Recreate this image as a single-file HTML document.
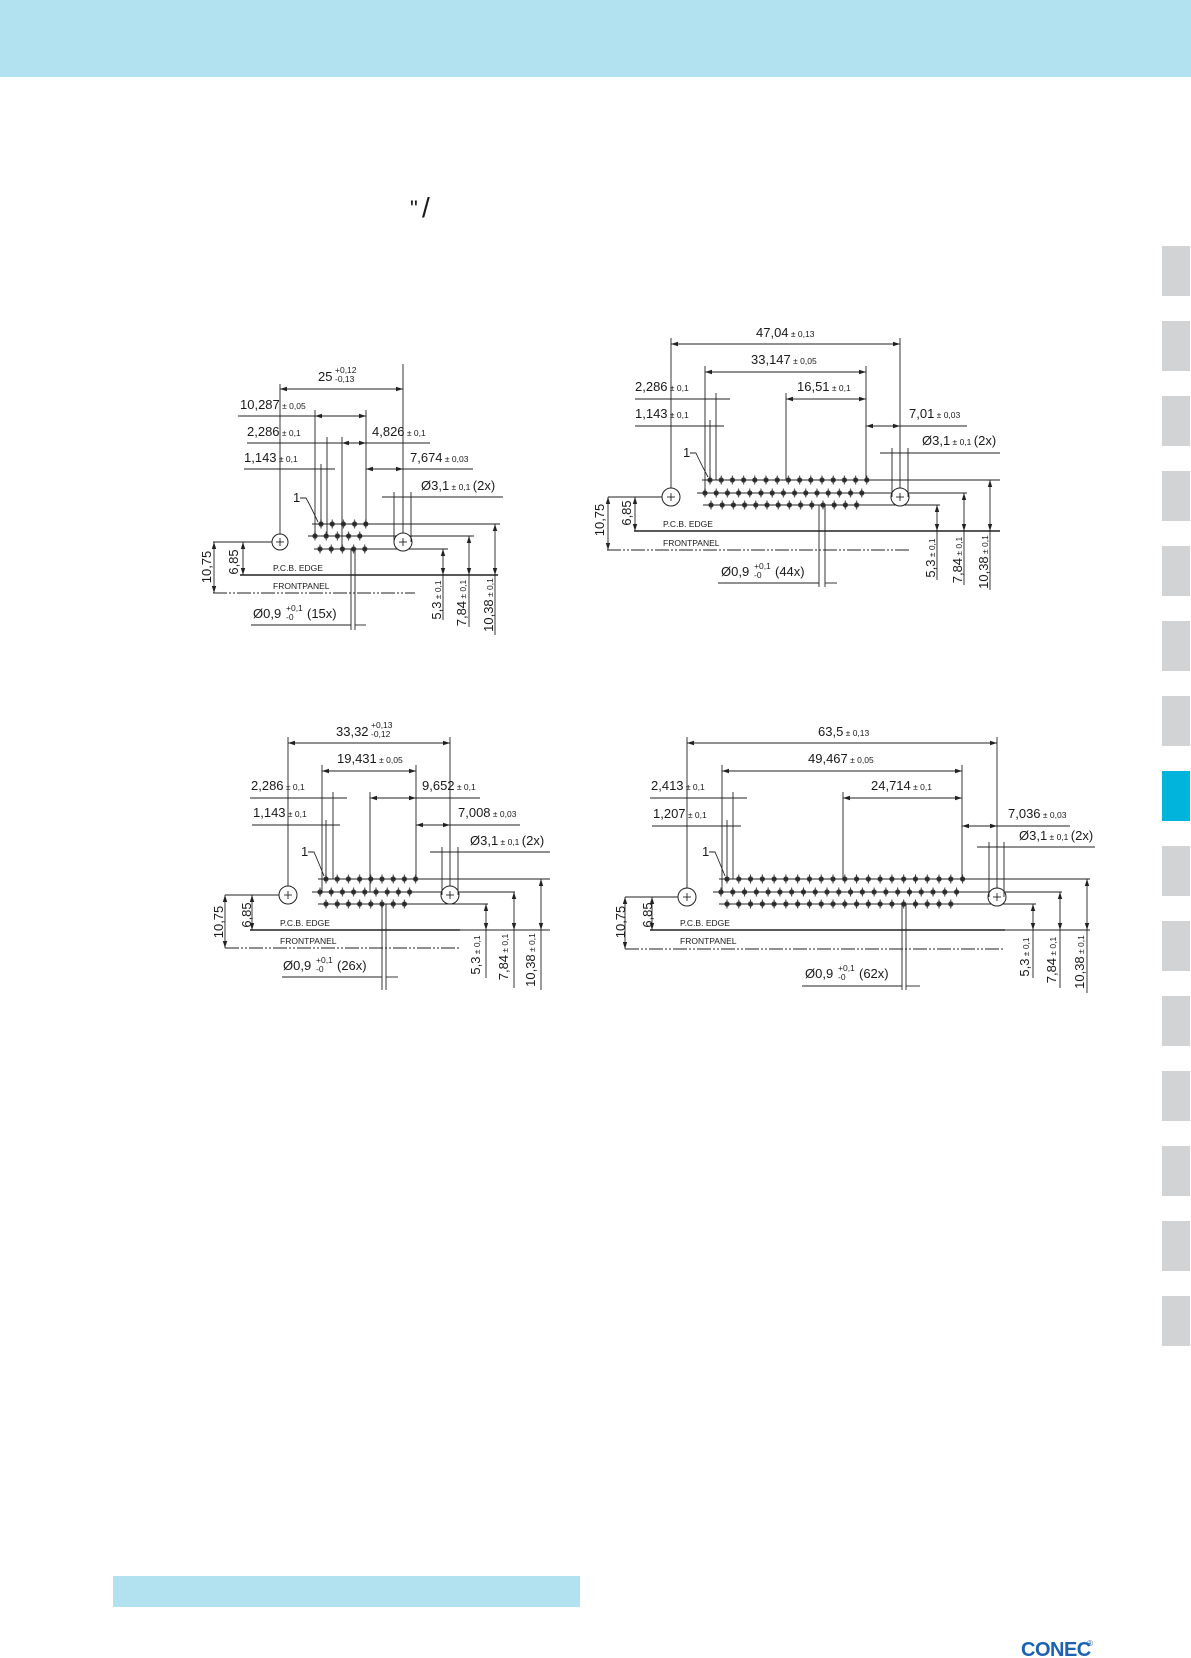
<!DOCTYPE html>
<html><head><meta charset="utf-8"><style>
html,body{margin:0;padding:0;background:#fff;}
svg{display:block;}
text{font-family:"Liberation Sans",Arial,sans-serif;fill:#1a1a1a;}
.t{font-size:13px;}
.s{font-size:8.5px;}
.p{font-size:8.5px;}
line,path.l{stroke:#222;stroke-width:0.9;fill:none;}
.d line{marker-start:url(#ar);marker-end:url(#ar);}
.b{stroke-width:1.4 !important;}
.dd{stroke-dasharray:14 2 2 2 2 2;}
</style></head><body>
<svg width="1191" height="1658" viewBox="0 0 1191 1658" xmlns="http://www.w3.org/2000/svg">
<defs>
<marker id="ar" markerUnits="userSpaceOnUse" markerWidth="8" markerHeight="6" refX="7" refY="3" orient="auto-start-reverse"><path d="M0,0.8 L7,3 L0,5.2z" fill="#222"/></marker>
<pattern id="pA" patternUnits="userSpaceOnUse" width="11.2" height="12"><line x1="5.6" y1="1.5" x2="5.6" y2="10.5" stroke="#222" stroke-width="0.8"/><circle cx="5.6" cy="6" r="2.6" fill="#333"/></pattern>
<pattern id="pB" patternUnits="userSpaceOnUse" width="11.78" height="12"><line x1="5.89" y1="1.5" x2="5.89" y2="10.5" stroke="#222" stroke-width="0.8"/><circle cx="5.89" cy="6" r="2.6" fill="#333"/></pattern>
</defs>

<!-- header & tabs -->
<rect x="0" y="0" width="1191" height="77" fill="#b2e1ef"/>
<g fill="#d2d3d5">
<rect x="1162" y="246" width="28" height="50"/><rect x="1162" y="321" width="28" height="50"/><rect x="1162" y="396" width="28" height="50"/><rect x="1162" y="471" width="28" height="50"/><rect x="1162" y="546" width="28" height="50"/><rect x="1162" y="621" width="28" height="50"/><rect x="1162" y="696" width="28" height="50"/>
<rect x="1162" y="846" width="28" height="50"/><rect x="1162" y="921" width="28" height="50"/><rect x="1162" y="996" width="28" height="50"/><rect x="1162" y="1071" width="28" height="50"/><rect x="1162" y="1146" width="28" height="50"/><rect x="1162" y="1221" width="28" height="50"/><rect x="1162" y="1296" width="28" height="50"/>
</g>
<rect x="1162" y="771" width="28" height="50" fill="#00b4dc"/>
<rect x="113" y="1576" width="467" height="31" fill="#b2e1ef"/>
<text x="1021" y="1656" style="font-size:20px;font-weight:bold;fill:#1b62b0;letter-spacing:-0.5px">CONEC</text>
<text x="1087" y="1646" style="font-size:8px;fill:#1b62b0">®</text>
<text x="410" y="216" style="font-size:22px">"</text>
<text x="422" y="217" style="font-size:28px">/</text>

<!-- ============ DIAGRAM 1 ============ -->
<g>
<g transform="translate(315.4,518)"><rect width="56" height="12" fill="url(#pA)"/></g>
<g transform="translate(309.4,530)"><rect width="56" height="12" fill="url(#pA)"/></g>
<g transform="translate(314.4,543)"><rect width="56" height="12" fill="url(#pA)"/></g>
<line x1="312" y1="524" x2="500" y2="524"/><line x1="308" y1="536" x2="474" y2="536"/><line x1="314" y1="549" x2="448" y2="549"/>
<circle cx="280" cy="542" r="8" fill="#fff" stroke="#222"/><line x1="276" y1="542" x2="284" y2="542"/><line x1="280" y1="538" x2="280" y2="546"/>
<circle cx="403" cy="542" r="9" fill="#fff" stroke="#222"/><line x1="399" y1="542" x2="407" y2="542"/><line x1="403" y1="538" x2="403" y2="546"/>
<line x1="280" y1="384" x2="280" y2="534"/><line x1="403" y1="364" x2="403" y2="533"/>
<line x1="315" y1="410" x2="315" y2="536"/><line x1="366" y1="410" x2="366" y2="524"/>
<line x1="327" y1="437" x2="327" y2="536"/><line x1="342" y1="437" x2="342" y2="549"/>
<line x1="321" y1="464" x2="321" y2="524"/>
<line x1="394" y1="492" x2="394" y2="542"/><line x1="411" y1="492" x2="411" y2="542"/>
<line x1="238" y1="416" x2="315" y2="416"/><line x1="247" y1="443" x2="430" y2="443"/><line x1="244" y1="469" x2="335" y2="469"/><line x1="403" y1="469" x2="473" y2="469"/><line x1="382" y1="497" x2="503" y2="497"/>
<g class="d"><line x1="280" y1="389" x2="403" y2="389"/><line x1="315" y1="416" x2="366" y2="416"/><line x1="342" y1="443" x2="366" y2="443"/><line x1="366" y1="469" x2="403" y2="469"/></g>
<text class="t" x="318" y="381">25</text><text class="s" x="335" y="373">+0,12</text><text class="s" x="335" y="382">-0,13</text>
<text class="t" x="240" y="409">10,287<tspan class="s"> ± 0,05</tspan></text>
<text class="t" x="247" y="436">2,286<tspan class="s"> ± 0,1</tspan></text>
<text class="t" x="372" y="436">4,826<tspan class="s"> ± 0,1</tspan></text>
<text class="t" x="244" y="462">1,143<tspan class="s"> ± 0,1</tspan></text>
<text class="t" x="410" y="462">7,674<tspan class="s"> ± 0,03</tspan></text>
<text class="t" x="421" y="490">Ø3,1<tspan class="s"> ± 0,1 </tspan>(2x)</text>
<text class="t" x="293" y="502">1</text><path class="l" d="M300,498 L306,498 Q310,505 318,522"/>
<line x1="213" y1="542" x2="272" y2="542"/>
<line class="b" x1="240" y1="575" x2="498" y2="575"/>
<line class="dd" x1="213" y1="593" x2="415" y2="593"/>
<text class="p" x="273" y="571">P.C.B. EDGE</text><text class="p" x="273" y="589">FRONTPANEL</text>
<g class="d"><line x1="214" y1="542" x2="214" y2="593"/><line x1="243" y1="542" x2="243" y2="575"/><line x1="443" y1="549" x2="443" y2="575"/><line x1="469" y1="536" x2="469" y2="575"/><line x1="495" y1="524" x2="495" y2="575"/></g>
<line x1="443" y1="575" x2="443" y2="620"/><line x1="469" y1="575" x2="469" y2="627"/><line x1="495" y1="575" x2="495" y2="635"/>
<text class="t" transform="translate(211,567) rotate(-90)" text-anchor="middle">10,75</text>
<text class="t" transform="translate(238,562) rotate(-90)" text-anchor="middle">6,85</text>
<text class="t" transform="translate(441,600) rotate(-90)" text-anchor="middle">5,3<tspan class="s"> ± 0,1</tspan></text>
<text class="t" transform="translate(466,603) rotate(-90)" text-anchor="middle">7,84<tspan class="s"> ± 0,1</tspan></text>
<text class="t" transform="translate(493,605) rotate(-90)" text-anchor="middle">10,38<tspan class="s"> ± 0,1</tspan></text>
<line x1="251" y1="625" x2="351" y2="625"/><line x1="355" y1="625" x2="366" y2="625"/>
<line x1="351" y1="549" x2="351" y2="630"/><line x1="355" y1="549" x2="355" y2="630"/>
<text class="t" x="253" y="618">Ø0,9</text><text class="s" x="286" y="611">+0,1</text><text class="s" x="286" y="620">-0</text><text class="t" x="307" y="618">(15x)</text>
</g>

<!-- ============ DIAGRAM 2 ============ -->
<g>
<g transform="translate(704.4,474)"><rect width="168" height="12" fill="url(#pA)"/></g>
<g transform="translate(699.4,487)"><rect width="168" height="12" fill="url(#pA)"/></g>
<g transform="translate(705.4,499)"><rect width="156.8" height="12" fill="url(#pA)"/></g>
<line x1="702" y1="480" x2="1000" y2="480"/><line x1="697" y1="493" x2="967" y2="493"/><line x1="703" y1="505" x2="940" y2="505"/>
<circle cx="671" cy="497" r="9" fill="#fff" stroke="#222"/><line x1="667" y1="497" x2="675" y2="497"/><line x1="671" y1="493" x2="671" y2="501"/>
<circle cx="900" cy="497" r="9" fill="#fff" stroke="#222"/><line x1="896" y1="497" x2="904" y2="497"/><line x1="900" y1="493" x2="900" y2="501"/>
<line x1="671" y1="338" x2="671" y2="488"/><line x1="900" y1="338" x2="900" y2="488"/>
<line x1="705" y1="366" x2="705" y2="493"/><line x1="866" y1="366" x2="866" y2="480"/>
<line x1="716" y1="393" x2="716" y2="480"/><line x1="786" y1="393" x2="786" y2="480"/>
<line x1="710" y1="420" x2="710" y2="480"/>
<line x1="892" y1="448" x2="892" y2="497"/><line x1="908" y1="448" x2="908" y2="497"/>
<line x1="635" y1="399" x2="730" y2="399"/><line x1="635" y1="426" x2="724" y2="426"/><line x1="900" y1="426" x2="967" y2="426"/><line x1="880" y1="453" x2="1000" y2="453"/>
<g class="d"><line x1="671" y1="344" x2="900" y2="344"/><line x1="705" y1="372" x2="866" y2="372"/><line x1="786" y1="399" x2="866" y2="399"/><line x1="866" y1="426" x2="900" y2="426"/></g>
<text class="t" x="756" y="337">47,04<tspan class="s"> ± 0,13</tspan></text>
<text class="t" x="751" y="364">33,147<tspan class="s"> ± 0,05</tspan></text>
<text class="t" x="635" y="391">2,286<tspan class="s"> ± 0,1</tspan></text>
<text class="t" x="797" y="391">16,51<tspan class="s"> ± 0,1</tspan></text>
<text class="t" x="635" y="418">1,143<tspan class="s"> ± 0,1</tspan></text>
<text class="t" x="909" y="418">7,01<tspan class="s"> ± 0,03</tspan></text>
<text class="t" x="922" y="445">Ø3,1<tspan class="s"> ± 0,1 </tspan>(2x)</text>
<text class="t" x="683" y="457">1</text><path class="l" d="M690,453 L696,453 Q700,462 708,477"/>
<line x1="608" y1="497" x2="662" y2="497"/>
<line class="b" x1="634" y1="531" x2="1000" y2="531"/>
<line class="dd" x1="607" y1="550" x2="910" y2="550"/>
<text class="p" x="663" y="527">P.C.B. EDGE</text><text class="p" x="663" y="546">FRONTPANEL</text>
<g class="d"><line x1="608" y1="497" x2="608" y2="550"/><line x1="635" y1="497" x2="635" y2="531"/><line x1="937" y1="505" x2="937" y2="531"/><line x1="964" y1="493" x2="964" y2="531"/><line x1="990" y1="480" x2="990" y2="531"/></g>
<line x1="937" y1="531" x2="937" y2="580"/><line x1="964" y1="531" x2="964" y2="585"/><line x1="990" y1="531" x2="990" y2="590"/>
<text class="t" transform="translate(604,520) rotate(-90)" text-anchor="middle">10,75</text>
<text class="t" transform="translate(631,513) rotate(-90)" text-anchor="middle">6,85</text>
<text class="t" transform="translate(935,558) rotate(-90)" text-anchor="middle">5,3<tspan class="s"> ± 0,1</tspan></text>
<text class="t" transform="translate(962,560) rotate(-90)" text-anchor="middle">7,84<tspan class="s"> ± 0,1</tspan></text>
<text class="t" transform="translate(988,562) rotate(-90)" text-anchor="middle">10,38<tspan class="s"> ± 0,1</tspan></text>
<line x1="718" y1="583" x2="819" y2="583"/><line x1="825" y1="583" x2="837" y2="583"/>
<line x1="819" y1="505" x2="819" y2="587"/><line x1="825" y1="505" x2="825" y2="587"/>
<text class="t" x="721" y="576">Ø0,9</text><text class="s" x="754" y="569">+0,1</text><text class="s" x="754" y="578">-0</text><text class="t" x="775" y="576">(44x)</text>
</g>

<!-- ============ DIAGRAM 3 ============ -->
<g>
<g transform="translate(320.4,873)"><rect width="100.8" height="12" fill="url(#pA)"/></g>
<g transform="translate(314.4,886)"><rect width="100.8" height="12" fill="url(#pA)"/></g>
<g transform="translate(320.4,898)"><rect width="89.6" height="12" fill="url(#pA)"/></g>
<line x1="318" y1="879" x2="550" y2="879"/><line x1="312" y1="892" x2="515" y2="892"/><line x1="318" y1="904" x2="488" y2="904"/>
<circle cx="288" cy="895" r="9" fill="#fff" stroke="#222"/><line x1="284" y1="895" x2="292" y2="895"/><line x1="288" y1="891" x2="288" y2="899"/>
<circle cx="450" cy="895" r="9" fill="#fff" stroke="#222"/><line x1="446" y1="895" x2="454" y2="895"/><line x1="450" y1="891" x2="450" y2="899"/>
<line x1="288" y1="737" x2="288" y2="886"/><line x1="450" y1="737" x2="450" y2="886"/>
<line x1="322" y1="765" x2="322" y2="892"/><line x1="416" y1="765" x2="416" y2="879"/>
<line x1="333" y1="792" x2="333" y2="879"/><line x1="370" y1="792" x2="370" y2="892"/>
<line x1="326" y1="820" x2="326" y2="879"/>
<line x1="442" y1="847" x2="442" y2="895"/><line x1="458" y1="847" x2="458" y2="895"/>
<line x1="250" y1="798" x2="347" y2="798"/><line x1="416" y1="798" x2="480" y2="798"/><line x1="252" y1="825" x2="340" y2="825"/><line x1="450" y1="825" x2="520" y2="825"/><line x1="430" y1="852" x2="550" y2="852"/>
<g class="d"><line x1="288" y1="743" x2="450" y2="743"/><line x1="322" y1="771" x2="416" y2="771"/><line x1="370" y1="798" x2="416" y2="798"/><line x1="416" y1="825" x2="450" y2="825"/></g>
<text class="t" x="336" y="736">33,32</text><text class="s" x="371" y="728">+0,13</text><text class="s" x="371" y="737">-0,12</text>
<text class="t" x="337" y="763">19,431<tspan class="s"> ± 0,05</tspan></text>
<text class="t" x="251" y="790">2,286<tspan class="s"> ± 0,1</tspan></text>
<text class="t" x="422" y="790">9,652<tspan class="s"> ± 0,1</tspan></text>
<text class="t" x="253" y="817">1,143<tspan class="s"> ± 0,1</tspan></text>
<text class="t" x="458" y="817">7,008<tspan class="s"> ± 0,03</tspan></text>
<text class="t" x="470" y="845">Ø3,1<tspan class="s"> ± 0,1 </tspan>(2x)</text>
<text class="t" x="301" y="856">1</text><path class="l" d="M308,852 L314,852 Q318,861 324,876"/>
<line x1="225" y1="895" x2="279" y2="895"/>
<line class="b" x1="250" y1="930" x2="460" y2="930"/><line x1="460" y1="930" x2="550" y2="930"/>
<line class="dd" x1="225" y1="948" x2="460" y2="948"/>
<text class="p" x="280" y="926">P.C.B. EDGE</text><text class="p" x="280" y="944">FRONTPANEL</text>
<g class="d"><line x1="225" y1="895" x2="225" y2="948"/><line x1="252" y1="895" x2="252" y2="930"/><line x1="486" y1="904" x2="486" y2="930"/><line x1="514" y1="892" x2="514" y2="930"/><line x1="541" y1="879" x2="541" y2="930"/></g>
<line x1="486" y1="930" x2="486" y2="978"/><line x1="514" y1="930" x2="514" y2="988"/><line x1="541" y1="930" x2="541" y2="990"/>
<text class="t" transform="translate(223,922) rotate(-90)" text-anchor="middle">10,75</text>
<text class="t" transform="translate(251,915) rotate(-90)" text-anchor="middle">6,85</text>
<text class="t" transform="translate(480,955) rotate(-90)" text-anchor="middle">5,3<tspan class="s"> ± 0,1</tspan></text>
<text class="t" transform="translate(508,957) rotate(-90)" text-anchor="middle">7,84<tspan class="s"> ± 0,1</tspan></text>
<text class="t" transform="translate(535,960) rotate(-90)" text-anchor="middle">10,38<tspan class="s"> ± 0,1</tspan></text>
<line x1="282" y1="977" x2="382" y2="977"/><line x1="386" y1="977" x2="398" y2="977"/>
<line x1="382" y1="904" x2="382" y2="990"/><line x1="386" y1="904" x2="386" y2="990"/>
<text class="t" x="283" y="970">Ø0,9</text><text class="s" x="316" y="963">+0,1</text><text class="s" x="316" y="972">-0</text><text class="t" x="337" y="970">(26x)</text>
</g>

<!-- ============ DIAGRAM 4 ============ -->
<g>
<g transform="translate(721.1,873)"><rect width="247.4" height="12" fill="url(#pB)"/></g>
<g transform="translate(715.1,886)"><rect width="247.4" height="12" fill="url(#pB)"/></g>
<g transform="translate(721.1,898)"><rect width="235.6" height="12" fill="url(#pB)"/></g>
<line x1="719" y1="879" x2="1090" y2="879"/><line x1="713" y1="892" x2="1062" y2="892"/><line x1="719" y1="904" x2="1036" y2="904"/>
<circle cx="687" cy="897" r="9" fill="#fff" stroke="#222"/><line x1="683" y1="897" x2="691" y2="897"/><line x1="687" y1="893" x2="687" y2="901"/>
<circle cx="997" cy="897" r="9" fill="#fff" stroke="#222"/><line x1="993" y1="897" x2="1001" y2="897"/><line x1="997" y1="893" x2="997" y2="901"/>
<line x1="687" y1="737" x2="687" y2="888"/><line x1="997" y1="737" x2="997" y2="888"/>
<line x1="722" y1="765" x2="722" y2="892"/><line x1="962" y1="765" x2="962" y2="879"/>
<line x1="733" y1="792" x2="733" y2="879"/><line x1="843" y1="792" x2="843" y2="879"/>
<line x1="727" y1="820" x2="727" y2="879"/>
<line x1="989" y1="842" x2="989" y2="897"/><line x1="1004" y1="842" x2="1004" y2="897"/>
<line x1="650" y1="798" x2="747" y2="798"/><line x1="652" y1="826" x2="741" y2="826"/><line x1="997" y1="826" x2="1070" y2="826"/><line x1="977" y1="847" x2="1095" y2="847"/>
<g class="d"><line x1="687" y1="743" x2="997" y2="743"/><line x1="722" y1="771" x2="962" y2="771"/><line x1="843" y1="798" x2="962" y2="798"/><line x1="962" y1="826" x2="997" y2="826"/></g>
<text class="t" x="818" y="736">63,5<tspan class="s"> ± 0,13</tspan></text>
<text class="t" x="808" y="763">49,467<tspan class="s"> ± 0,05</tspan></text>
<text class="t" x="651" y="790">2,413<tspan class="s"> ± 0,1</tspan></text>
<text class="t" x="871" y="790">24,714<tspan class="s"> ± 0,1</tspan></text>
<text class="t" x="653" y="818">1,207<tspan class="s"> ± 0,1</tspan></text>
<text class="t" x="1008" y="818">7,036<tspan class="s"> ± 0,03</tspan></text>
<text class="t" x="1019" y="840">Ø3,1<tspan class="s"> ± 0,1 </tspan>(2x)</text>
<text class="t" x="702" y="856">1</text><path class="l" d="M709,852 L715,852 Q719,861 725,876"/>
<line x1="625" y1="897" x2="678" y2="897"/>
<line class="b" x1="650" y1="930" x2="1005" y2="930"/><line x1="1005" y1="930" x2="1090" y2="930"/>
<line class="dd" x1="625" y1="949" x2="1005" y2="949"/>
<text class="p" x="680" y="926">P.C.B. EDGE</text><text class="p" x="680" y="944">FRONTPANEL</text>
<g class="d"><line x1="625" y1="897" x2="625" y2="949"/><line x1="652" y1="897" x2="652" y2="930"/><line x1="1033" y1="904" x2="1033" y2="930"/><line x1="1060" y1="892" x2="1060" y2="930"/><line x1="1087" y1="879" x2="1087" y2="930"/></g>
<line x1="1033" y1="930" x2="1033" y2="978"/><line x1="1060" y1="930" x2="1060" y2="988"/><line x1="1087" y1="930" x2="1087" y2="993"/>
<text class="t" transform="translate(625,922) rotate(-90)" text-anchor="middle">10,75</text>
<text class="t" transform="translate(652,915) rotate(-90)" text-anchor="middle">6,85</text>
<text class="t" transform="translate(1029,957) rotate(-90)" text-anchor="middle">5,3<tspan class="s"> ± 0,1</tspan></text>
<text class="t" transform="translate(1056,960) rotate(-90)" text-anchor="middle">7,84<tspan class="s"> ± 0,1</tspan></text>
<text class="t" transform="translate(1084,962) rotate(-90)" text-anchor="middle">10,38<tspan class="s"> ± 0,1</tspan></text>
<line x1="802" y1="986" x2="902" y2="986"/><line x1="906" y1="986" x2="920" y2="986"/>
<line x1="902" y1="904" x2="902" y2="990"/><line x1="906" y1="904" x2="906" y2="990"/>
<text class="t" x="805" y="978">Ø0,9</text><text class="s" x="838" y="971">+0,1</text><text class="s" x="838" y="980">-0</text><text class="t" x="859" y="978">(62x)</text>
</g>
</svg>
</body></html>
